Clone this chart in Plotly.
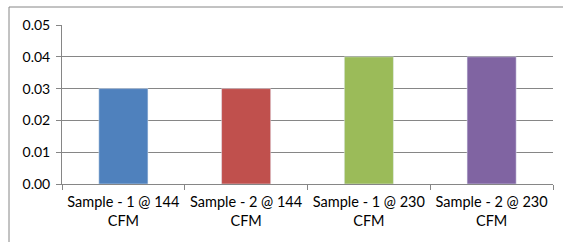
import plotly.graph_objects as go

categories = ["Sample - 1 @ 144<br>CFM", "Sample - 2 @ 144<br>CFM",
              "Sample - 1 @ 230<br>CFM", "Sample - 2 @ 230<br>CFM"]
values = [0.03, 0.03, 0.04, 0.04]
colors = ["#4F81BD", "#C0504D", "#9BBB59", "#8064A2"]
y_ticks = [0.00, 0.01, 0.02, 0.03, 0.04, 0.05]

fig = go.Figure(go.Bar(x=categories, y=values, marker_color=colors, width=0.4))

L, R, T, B = 62, 10, 25, 58
W, H = 563, 242
pw = W - L - R
ph = H - T - B
bx = (9 - L) / pw
by = (ph + T - 7) / ph

fig.update_layout(
    width=W, height=H,
    margin=dict(l=L, r=R, t=T, b=B, pad=0, autoexpand=False),
    paper_bgcolor="white", plot_bgcolor="white",
    font=dict(family="Lato, Liberation Sans, Arial", size=14, color="#000000"),
    showlegend=False,
    bargap=0.6,
    xaxis=dict(showline=True, linecolor="#868686", linewidth=1,
               ticks="outside", tickson="boundaries", ticklen=5, tickcolor="#868686",
               showgrid=False, automargin=False, ticklabelstandoff=5,
               tickfont=dict(size=14.5)),
    yaxis=dict(range=[0, 0.05], tickvals=y_ticks, ticktext=[f"{v:.2f}" for v in y_ticks],
               showline=True, linecolor="#868686", linewidth=1,
               ticks="outside", ticklen=5, tickcolor="#868686",
               showgrid=True, gridcolor="#868686", gridwidth=1, zeroline=False,
               automargin=False, ticklabelstandoff=3),
    shapes=[
        dict(type="line", xref="paper", yref="paper", x0=bx, x1=1.05, y0=by, y1=by,
             line=dict(color="#868686", width=1), layer="below"),
        dict(type="line", xref="paper", yref="paper", x0=bx, x1=bx, y0=-0.5, y1=by,
             line=dict(color="#868686", width=1), layer="below"),
    ],
)

fig.write_html("out.html", config={"displayModeBar": False},
               post_script="document.body.style.margin='0';document.body.style.overflow='hidden';")
